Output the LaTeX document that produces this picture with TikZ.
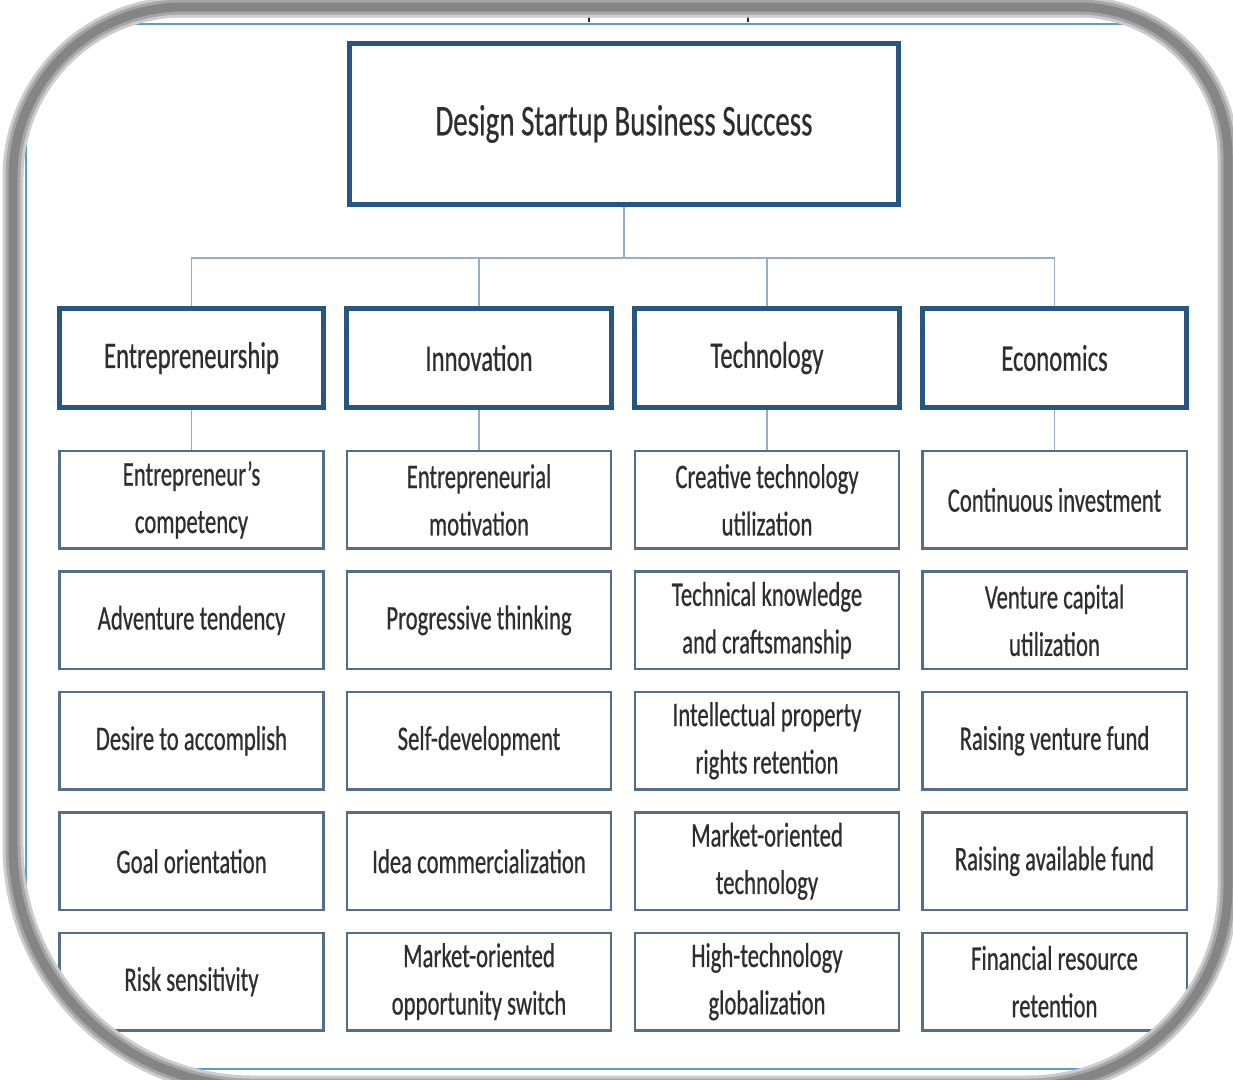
\documentclass[tikz,border=0pt]{standalone}
\usepackage{fontspec}
\setmainfont{Carlito}[FakeStretch=0.66, FakeBold=0.5]
\usetikzlibrary{positioning}
\definecolor{boxBlue}{RGB}{40,85,130}
\definecolor{itemBlue}{RGB}{85,110,135}
\definecolor{linkBlue}{RGB}{150,175,198}
\definecolor{frameBlue}{RGB}{91,155,213}
\definecolor{textGray}{gray}{0.18}

% outline of the rounded picture frame (pixel units)
\newcommand{\borderPath}{(13,177) .. controls (13,83) and (89,7) .. (183,7)
  -- (1078,7) .. controls (1161,7) and (1228,74) .. (1228,157)
  -- (1228,886) .. controls (1228,996) and (1138,1086) .. (1028,1086)
  -- (253,1086) .. controls (121,1086) and (13,978) .. (13,846) -- cycle}

\tikzset{
  rootbox/.style={draw=boxBlue, line width=2.8pt, fill=white, minimum width=10.98cm, minimum height=3.22cm, font=\fontsize{25}{30}\selectfont, text=textGray},
  head/.style={draw=boxBlue, line width=2.8pt, fill=white, minimum width=5.29cm, minimum height=1.98cm, font=\fontsize{21.3}{26}\selectfont, text=textGray},
  item/.style={draw=itemBlue, line width=1.4pt, fill=white, minimum width=5.29cm, minimum height=1.95cm, align=center, font=\fontsize{19.6}{27}\selectfont, text=textGray},
  link/.style={linkBlue, line width=0.9pt},
}

\begin{document}
\begin{tikzpicture}[x=0.02cm, y=-0.02cm]
    \useasboundingbox (0,0) rectangle (1233,1079);
    \fill[white] (0,0) rectangle (1233,1079);

    \begin{scope}
    \clip \borderPath;
    \draw[frameBlue, line width=1.4pt] (26,24) rectangle (1220,1069);
    % cut-off strokes along the top edge
    \draw[textGray, line width=1.2pt] (589,14) -- (589,22);
    \draw[textGray, line width=1.2pt] (748,14) -- (748,22);

    % Top level
    \node[rootbox] (root) at (624,124) {Design Startup Business Success};

    % Categories
    \node[head] (ent) at (191.5,358) {Entrepreneurship};
    \node[head] (inn) at (479,358) {Innovation};
    \node[head] (tec) at (767,358) {Technology};
    \node[head] (eco) at (1054.5,358) {Economics};

    % Entrepreneurship
    \node[item, below=0.8cm of ent] (ent1) {Entrepreneur’s\\competency};
    \node[item, below=0.41cm of ent1] (ent2) {Adventure tendency};
    \node[item, below=0.41cm of ent2] (ent3) {Desire to accomplish};
    \node[item, below=0.41cm of ent3] (ent4) {Goal orientation};
    \node[item, below=0.41cm of ent4] (ent5) {Risk sensitivity};

    % Innovation
    \node[item, below=0.8cm of inn] (inn1) {Entrepreneurial\\motivation};
    \node[item, below=0.41cm of inn1] (inn2) {Progressive thinking};
    \node[item, below=0.41cm of inn2] (inn3) {Self-development};
    \node[item, below=0.41cm of inn3] (inn4) {Idea commercialization};
    \node[item, below=0.41cm of inn4] (inn5) {Market-oriented\\opportunity switch};

    % Technology
    \node[item, below=0.8cm of tec] (tec1) {Creative technology\\utilization};
    \node[item, below=0.41cm of tec1] (tec2) {Technical knowledge\\and craftsmanship};
    \node[item, below=0.41cm of tec2] (tec3) {Intellectual property\\rights retention};
    \node[item, below=0.41cm of tec3] (tec4) {Market-oriented\\technology};
    \node[item, below=0.41cm of tec4] (tec5) {High-technology\\globalization};

    % Economics
    \node[item, below=0.8cm of eco] (eco1) {Continuous investment};
    \node[item, below=0.41cm of eco1] (eco2) {Venture capital\\utilization};
    \node[item, below=0.41cm of eco2] (eco3) {Raising venture fund};
    \node[item, below=0.41cm of eco3] (eco4) {Raising available fund};
    \node[item, below=0.41cm of eco4] (eco5) {Financial resource\\retention};

    % Connectors
    \coordinate (bus) at (624,258);
    \draw[link] (root.south) -- (bus);
    \draw[link] (ent.north) |- (bus) -| (eco.north);
    \draw[link] (inn.north) -- (inn.north |- bus);
    \draw[link] (tec.north) -- (tec.north |- bus);
    \draw[link] (ent.south) -- (ent1.north);
    \draw[link] (inn.south) -- (inn1.north);
    \draw[link] (tec.south) -- (tec1.north);
    \draw[link] (eco.south) -- (eco1.north);
    \end{scope}

    % Frame with its soft edge
    \draw[black!20, line width=0.42cm] \borderPath;
    \draw[black!35, line width=0.3cm] \borderPath;
    \draw[black!48, line width=0.18cm] \borderPath;
\end{tikzpicture}
\end{document}
